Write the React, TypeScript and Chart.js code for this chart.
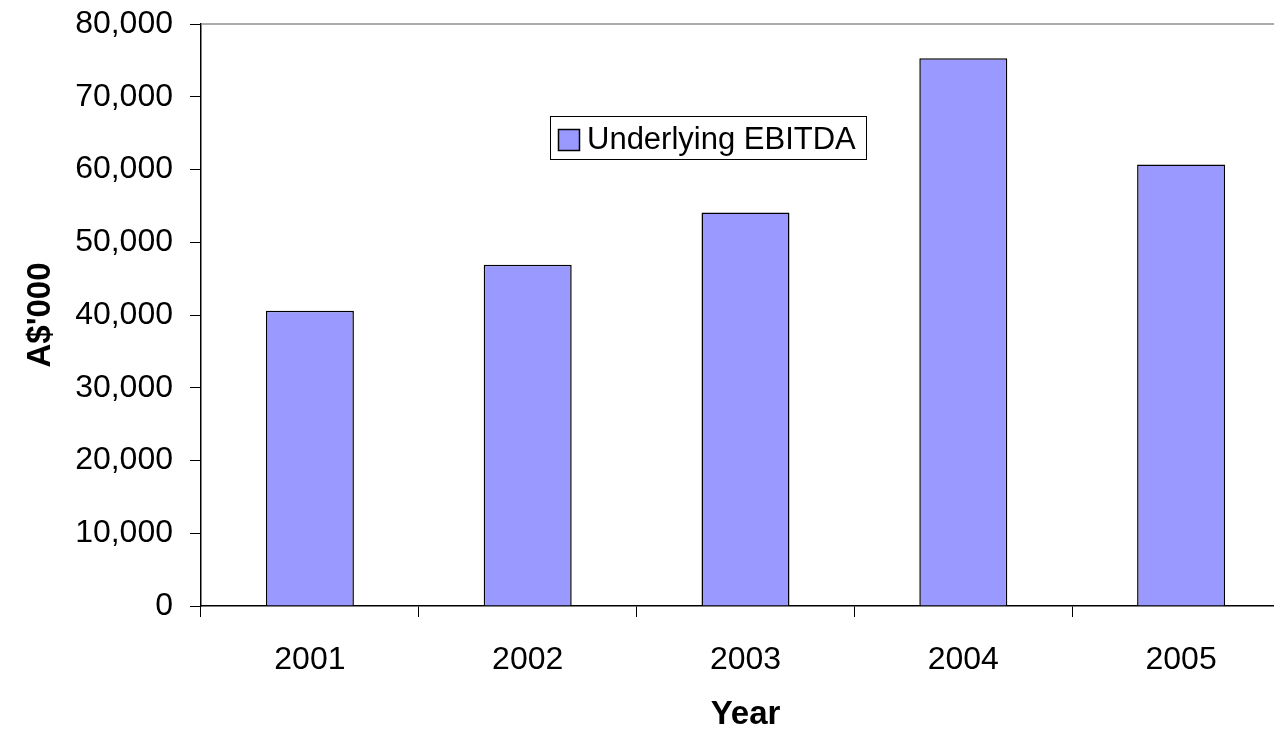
import React, { useEffect, useRef } from "react";
import { Chart, registerables } from "chart.js";

Chart.register(...registerables);

const categories = ["2001", "2002", "2003", "2004", "2005"];
const seriesName = "Underlying EBITDA";
const ebitda = [40600, 46900, 54100, 75300, 60700];
const yTicks = [0, 10000, 20000, 30000, 40000, 50000, 60000, 70000, 80000];
const xTitle = "Year";
const yTitle = "A$'000";

const FONT = "'Liberation Sans', Arial, sans-serif";

const decorPlugin = {
  id: "decor",
  afterDraw(chart: any) {
    const { ctx, chartArea } = chart;
    ctx.save();
    ctx.strokeStyle = "#8f8f8f";
    ctx.lineWidth = 1.5;
    ctx.beginPath();
    ctx.moveTo(chartArea.left, chartArea.top);
    ctx.lineTo(chartArea.right, chartArea.top);
    ctx.stroke();
    const ds = chart.data.datasets[0];
    const bx = 550.5, by = 116.5, bw = 316, bh = 43;
    ctx.fillStyle = "#ffffff";
    ctx.fillRect(bx, by, bw, bh);
    ctx.strokeStyle = "#000000";
    ctx.lineWidth = 1;
    ctx.strokeRect(bx, by, bw, bh);
    ctx.fillStyle = ds.backgroundColor;
    ctx.fillRect(558.5, 129.5, 21, 21);
    ctx.lineWidth = 1.5;
    ctx.strokeRect(558.5, 129.5, 21, 21);
    ctx.fillStyle = "#000000";
    ctx.font = `31px ${FONT}`;
    ctx.textBaseline = "middle";
    ctx.textAlign = "left";
    ctx.fillText(ds.label, 587, 140);
    ctx.restore();
  },
};

export default function App() {
  const ref = useRef<HTMLCanvasElement | null>(null);
  useEffect(() => {
    if (!ref.current) return;
    const chart = new Chart(ref.current, {
      type: "bar",
      data: {
        labels: categories,
        datasets: [
          {
            label: seriesName,
            data: ebitda,
            backgroundColor: "#9999FF",
            borderColor: "#000000",
            borderWidth: 1.5,
            categoryPercentage: 1,
            barPercentage: 0.404,
          },
        ],
      },
      options: {
        responsive: false,
        animation: false,
        devicePixelRatio: 1,
        layout: { padding: { top: 24, left: 0, right: 0, bottom: 0 } },
        plugins: {
          legend: { display: false },
          tooltip: { enabled: false },
        },
        scales: {
          x: {
            offset: true,
            grid: {
              display: true,
              offset: true,
              drawOnChartArea: false,
              drawTicks: true,
              tickLength: 11,
              color: "#000000",
              lineWidth: 1,
            },
            border: { display: true, color: "#000000", width: 1.5 },
            ticks: {
              color: "#000000",
              font: { family: FONT, size: 32 },
              padding: 24,
              maxRotation: 0,
            },
            title: {
              display: true,
              text: xTitle,
              color: "#000000",
              font: { family: FONT, size: 33, weight: "bold", lineHeight: 1 },
              padding: { top: 0, bottom: 0 },
            },
            afterFit(scale: any) {
              scale.height = 125;
            },
          },
          y: {
            min: 0,
            max: 80000,
            afterBuildTicks(scale: any) {
              scale.ticks = yTicks.map((v) => ({ value: v }));
            },
            grid: {
              display: true,
              drawOnChartArea: false,
              drawTicks: true,
              tickLength: 11,
              color: "#000000",
              lineWidth: 1,
            },
            border: { display: true, color: "#000000", width: 1.5 },
            ticks: {
              color: "#000000",
              font: { family: FONT, size: 32 },
              padding: 17,
              callback: (v: any) => Number(v).toLocaleString("en-US"),
            },
            title: {
              display: true,
              text: yTitle,
              color: "#000000",
              font: { family: FONT, size: 33, weight: "bold", lineHeight: 1 },
              padding: { top: 24, bottom: 0 },
            },
            afterFit(scale: any) {
              scale.width = 201;
              scale.paddingTop = 0;
              scale.paddingBottom = 0;
            },
          },
        },
      },
      plugins: [decorPlugin],
    });
    return () => chart.destroy();
  }, []);

  return (
    <div
      style={{
        position: "fixed",
        left: 0,
        top: 0,
        width: 1274,
        height: 731,
        overflow: "hidden",
        background: "#ffffff",
      }}
    >
      <canvas
        ref={ref}
        width={1290}
        height={731}
        style={{ display: "block", width: 1290, height: 731 }}
      />
    </div>
  );
}
